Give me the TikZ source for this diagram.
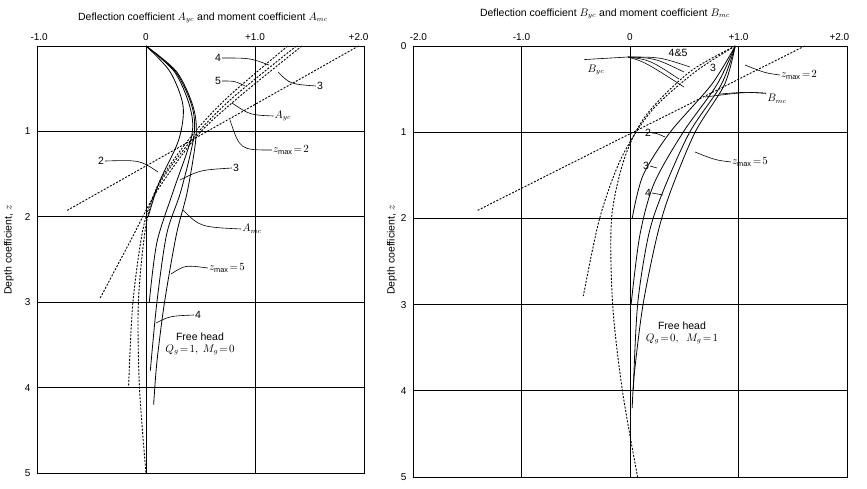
\documentclass[tikz,border=0pt]{standalone}
\usepackage{fontspec}
\setmainfont{Liberation Sans}
\begin{document}
\begin{tikzpicture}[x=1pt,y=-1pt,
  grid/.style={line width=0.8pt},
  curve/.style={line width=0.8pt},
  dcurve/.style={line width=0.9pt,dash pattern=on 2pt off 1.5pt},
  lead/.style={line width=0.6pt},
  lab/.style={font=\fontsize{10.5}{12}\selectfont,inner sep=1pt},
  tick/.style={font=\fontsize{10}{11}\selectfont,inner sep=1pt}]
\useasboundingbox (0,0) rectangle (867,488);
% ---------- LEFT CHART ----------
\begin{scope}[shift={(146,46)},x=109pt,y=-85.4pt]
  \draw[grid] (-1,0) rectangle (2,5);
  \foreach \i in {0,1} \draw[grid] (\i,0) -- (\i,5);
  \foreach \j in {1,2,3,4} \draw[grid] (-1,\j) -- (2,\j);
  \foreach \j in {1,2,3,4,5} \node[tick,anchor=east] (ly\j) at (-1.05,\j) {\j};
  \node[tick,anchor=south] (lx1) at (-0.98,-0.05) {-1.0};
  \node[tick,anchor=south] (lx2) at (0,-0.05) {0};
  \node[tick,anchor=south] (lx3) at (1,-0.05) {+1.0};
  \node[tick,anchor=south] (lx4) at (1.95,-0.05) {+2.0};
  \draw[dcurve] (1.95,0) -- (-0.73,1.93);
  \draw[dcurve] plot[smooth] coordinates {(1.43,0) (0.85,0.6) (0.47,1.05) (0.1,1.7) (-0.15,2.3) (-0.42,2.95)};
  \draw[dcurve] plot[smooth] coordinates {(1.38,0) (0.8,0.6) (0.45,1.05) (0.13,1.6) (-0.02,2.1) (-0.12,3) (-0.16,4)};
  \draw[dcurve] plot[smooth] coordinates {(1.30,0) (0.75,0.6) (0.42,1.05) (0.12,1.6) (0.0,2.1) (-0.07,3) (-0.06,4) (0,5)};
  \draw[curve] plot[smooth] coordinates {(0,0) (0.22,0.3) (0.34,0.7) (0.3,1.1) (0.12,1.6) (0.02,2.0)};
  \draw[curve] plot[smooth] coordinates {(0,0) (0.26,0.3) (0.4,0.7) (0.42,1.05) (0.25,1.7) (0.1,2.3) (0.03,3)};
  \draw[curve] plot[smooth] coordinates {(0,0) (0.27,0.3) (0.42,0.7) (0.44,1.05) (0.32,1.7) (0.19,2.2) (0.1,3) (0.04,3.8)};
  \draw[curve] plot[smooth] coordinates {(0,0) (0.28,0.3) (0.43,0.7) (0.46,1.05) (0.38,1.7) (0.28,2.2) (0.17,3) (0.1,3.7) (0.07,4.2)};
\end{scope}
\node[lab] (ltitle) at (203,18) {Deflection coefficient $A_{yc}$ and moment coefficient $A_{mc}$};
\node[lab,rotate=90] (lz) at (9,250) {Depth coefficient, $z$};
\node[lab] (l4a) at (218,58) {4};
\node[lab] (l3a) at (320,86) {3};
\node[lab] (l5a) at (218,81) {5};
\node[lab] (lAyc) at (283,116) {$A_{yc}$};
\node[lab] (lz2) at (291,150) {$z_{\max}\!=\!2$};
\node[lab] (l2) at (101,161) {2};
\node[lab] (l3b) at (236,168) {3};
\node[lab] (lAmc) at (252,229) {$A_{mc}$};
\node[lab] (lz5) at (227,268) {$z_{\max}\!=\!5$};
\node[lab] (l4b) at (198,315) {4};
\node[lab,align=center] (lfree) at (200,344) {Free head\\$Q_g\!=\!1,\ M_g\!=\!0$};
\coordinate (c1) at (269,65); \coordinate (c2) at (278,72);
\coordinate (c3) at (245,86); \coordinate (c4) at (232,103);
\coordinate (c5) at (230,120); \coordinate (c6) at (158,172);
\coordinate (c7) at (180,180); \coordinate (c8) at (183,210);
\coordinate (c9) at (171,274); \coordinate (c10) at (156,323);
\draw[lead] (l4a.east) .. controls (250,58) .. (c1);
\draw[lead] (l3a.west) .. controls (290,84) .. (c2);
\draw[lead] (l5a.east) .. controls (235,81) .. (c3);
\draw[lead] (lAyc.west) .. controls (250,115) .. (c4);
\draw[lead] (lz2.west) .. controls (240,150) .. (c5);
\draw[lead] (l2.east) .. controls (140,160) .. (c6);
\draw[lead] (l3b.west) .. controls (200,170) .. (c7);
\draw[lead] (lAmc.west) .. controls (200,227) .. (c8);
\draw[lead] (lz5.west) .. controls (185,265) .. (c9);
\draw[lead] (l4b.west) .. controls (170,316) .. (c10);
% ---------- RIGHT CHART ----------
\begin{scope}[shift={(630,46)},x=108.5pt,y=-86.2pt]
  \draw[grid] (-2,0) rectangle (2,5);
  \foreach \i in {-1,0,1} \draw[grid] (\i,0) -- (\i,5);
  \foreach \j in {1,2,3,4} \draw[grid] (-2,\j) -- (2,\j);
  \foreach \j in {0,1,2,3,4,5} \node[tick,anchor=east] (ry\j) at (-2.05,\j) {\j};
  \node[tick,anchor=south] (rx1) at (-1.95,-0.05) {-2.0};
  \node[tick,anchor=south] (rx2) at (-1,-0.05) {-1.0};
  \node[tick,anchor=south] (rx3) at (0,-0.05) {0};
  \node[tick,anchor=south] (rx4) at (1,-0.05) {+1.0};
  \node[tick,anchor=south] (rx5) at (1.93,-0.05) {+2.0};
  \draw[dcurve] (1.61,0) -- (-1.41,1.91);
  \draw[dcurve] plot[smooth] coordinates {(0.97,0) (0.6,0.3) (0.2,0.75) (-0.08,1.3) (-0.28,2.0) (-0.43,2.9)};
  \draw[dcurve] plot[smooth] coordinates {(0.97,0) (0.55,0.3) (0.15,0.8) (-0.05,1.3) (-0.17,2.0) (-0.16,3) (-0.07,4) (0.07,5)};
  \draw[curve] plot[smooth] coordinates {(0.97,0) (0.75,0.45) (0.37,1.0) (0.12,1.5) (0.02,2.0)};
  \draw[curve] plot[smooth] coordinates {(0.97,0) (0.8,0.45) (0.49,1.0) (0.22,1.6) (0.09,2.2) (0.01,3)};
  \draw[curve] plot[smooth] coordinates {(0.97,0) (0.84,0.45) (0.55,1.0) (0.3,1.7) (0.17,2.2) (0.07,3) (0.03,4)};
  \draw[curve] plot[smooth] coordinates {(0.97,0) (0.87,0.45) (0.6,1.0) (0.37,1.7) (0.25,2.2) (0.12,3) (0.04,3.8) (0.02,4.2)};
\end{scope}
\node[lab] (rtitle) at (605,14) {Deflection coefficient $B_{yc}$ and moment coefficient $B_{mc}$};
\node[lab,rotate=90] (rz) at (392,250) {Depth coefficient, $z$};
\node[lab] (rByc) at (596,70) {$B_{yc}$};
\node[lab] (r45) at (678,53) {4\&5};
\node[lab] (r3a) at (713,68) {3};
\node[lab] (rz2) at (799,75) {$z_{\max}\!=\!2$};
\node[lab] (rBmc) at (777,99) {$B_{mc}$};
\node[lab] (r2) at (648,133) {2};
\node[lab] (r3b) at (646,166) {3};
\node[lab] (r4) at (648,193) {4};
\node[lab] (rz5) at (750,162) {$z_{\max}\!=\!5$};
\node[lab,align=center] (rfree) at (682,333) {Free head\\$Q_g\!=\!0,\ \ M_g\!=\!1$};
\coordinate (d0) at (628,57);
\coordinate (d1) at (690,67); \coordinate (d2) at (684,72);
\coordinate (d3) at (679,79); \coordinate (d4) at (684,87);
\coordinate (d5) at (745,65); \coordinate (d6) at (705,97);
\coordinate (d7) at (720,94); \coordinate (d8) at (665,137);
\coordinate (d9) at (657,168); \coordinate (d10) at (663,195);
\coordinate (d11) at (695,152);
\draw[lead] (rByc.north west) ++(-2,-4) -- (d0);
\draw[lead] (d0) .. controls (660,57) .. (d1);
\draw[lead] (d0) .. controls (655,58) .. (d2);
\draw[lead] (d0) .. controls (650,60) .. (d3);
\draw[lead] (d0) .. controls (645,62) .. (d4);
\draw[lead] (rz2.west) .. controls (765,73) .. (d5);
\draw[lead] (rBmc.north west) .. controls (745,92) .. (d6);
\draw[lead] (rBmc.north west) .. controls (745,92) .. (d7);
\draw[lead] (r2.east) .. controls (656,133) .. (d8);
\draw[lead] (r3b.east) -- (d9);
\draw[lead] (r4.east) -- (d10);
\draw[lead] (rz5.west) .. controls (715,160) .. (d11);
\end{tikzpicture}
\end{document}
